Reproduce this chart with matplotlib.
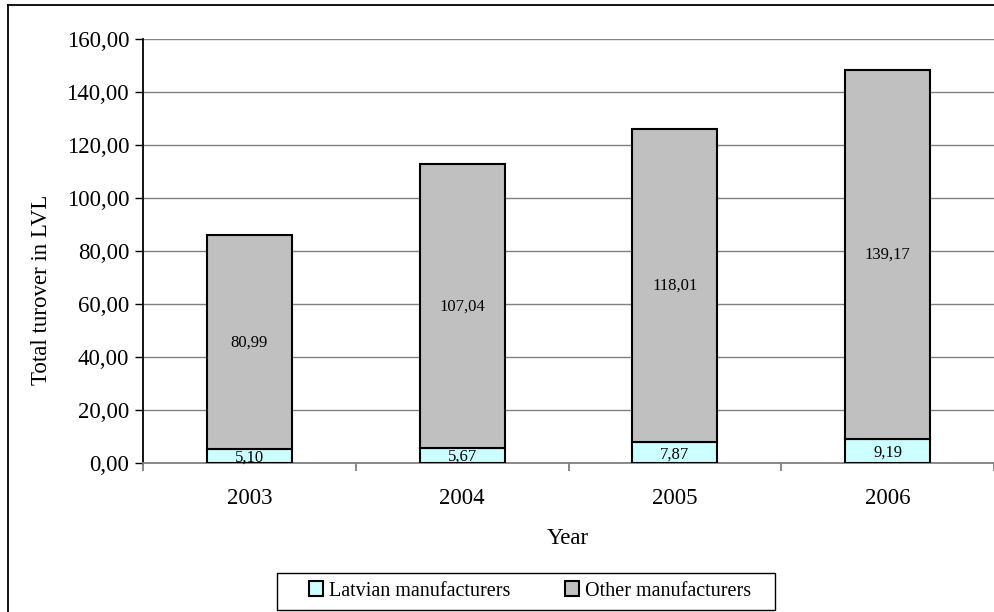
import numpy as np
import matplotlib
matplotlib.use('Agg')
import matplotlib.pyplot as plt
from matplotlib.lines import Line2D
from matplotlib.patches import Rectangle
from matplotlib.ticker import FuncFormatter, MultipleLocator

plt.rcParams['font.family'] = ['Liberation Serif', 'DejaVu Serif']

years = ['2003', '2004', '2005', '2006']
latvian = [5.10, 5.67, 7.87, 9.19]
other = [80.99, 107.04, 118.01, 139.17]


def coma(v):
    return f'{v:.2f}'.replace('.', ',')


W, H = 994, 612
fig = plt.figure(figsize=(W / 100, H / 100), dpi=100)
ax = fig.add_axes([143 / W, (H - 463) / H, (W - 143) / W, (463 - 39) / H])

x = np.arange(len(years))
bw = 0.40
b1 = ax.bar(x, latvian, bw, color='#CCFFFF', edgecolor='black', lw=1.5,
            label='Latvian manufacturers', zorder=3)
b2 = ax.bar(x, other, bw, bottom=latvian, color='#C0C0C0', edgecolor='black',
            lw=1.5, label='Other manufacturers', zorder=3)

for xi, lv, ov in zip(x, latvian, other):
    ax.text(xi, lv / 2 - 0.6, coma(lv), ha='center', va='center', fontsize=12, zorder=4)
    ax.text(xi, lv + ov / 2, coma(ov), ha='center', va='center', fontsize=12, zorder=4)

ax.set_xlim(-0.5, 3.5)
ax.set_ylim(0, 160)
ax.yaxis.set_major_locator(MultipleLocator(20))
ax.yaxis.set_major_formatter(FuncFormatter(lambda v, p: coma(v)))
ax.grid(axis='y', color='#808080', lw=1.0, zorder=0)
ax.set_axisbelow(True)

# ticks on the category boundaries, labels in the middle
ax.set_xticks(np.arange(-0.5, 4, 1.0))
ax.set_xticklabels([])
ax.set_xticks(x, minor=True)
ax.set_xticklabels(years, minor=True, fontsize=16.5)
ax.tick_params(axis='x', which='major', length=6, width=1.3, color='#808080', direction='out')
ax.tick_params(axis='x', which='minor', length=0, pad=18)
ax.tick_params(axis='y', length=6, width=1.0, direction='out', labelsize=16.5, pad=4)

for s in ['top', 'right']:
    ax.spines[s].set_visible(False)
ax.spines['left'].set_linewidth(1.3)
ax.spines['bottom'].set_color('#808080')
ax.spines['bottom'].set_linewidth(1.3)

fig.text(42 / W, 1 - 290 / H, 'Total turover in LVL', rotation=90,
         ha='center', va='center', fontsize=16.5)
fig.text(568 / W, 1 - 538 / H, 'Year', ha='center', va='center', fontsize=16.5)

# legend without its own frame; the box is drawn separately so it can be wider
leg = fig.legend(handles=[b1, b2], loc='center', bbox_to_anchor=(530 / W, 1 - 591 / H),
                 ncol=2, fontsize=14.5, frameon=False,
                 handlelength=0.7, handleheight=0.7, handletextpad=0.3,
                 columnspacing=2.7, borderpad=0.0)
fig.add_artist(Rectangle((277 / W, 1 - 610 / H), (775 - 277) / W, 37 / H,
                         transform=fig.transFigure, fill=False,
                         edgecolor='black', lw=1.0))

# outer frame of the chart area
fig.add_artist(Line2D([8 / W, 8 / W], [0, 1 - 5 / H], color='black', lw=1.3))
fig.add_artist(Line2D([8 / W, 1], [1 - 5 / H, 1 - 5 / H], color='black', lw=1.3))

fig.savefig('out.png', dpi=100)
